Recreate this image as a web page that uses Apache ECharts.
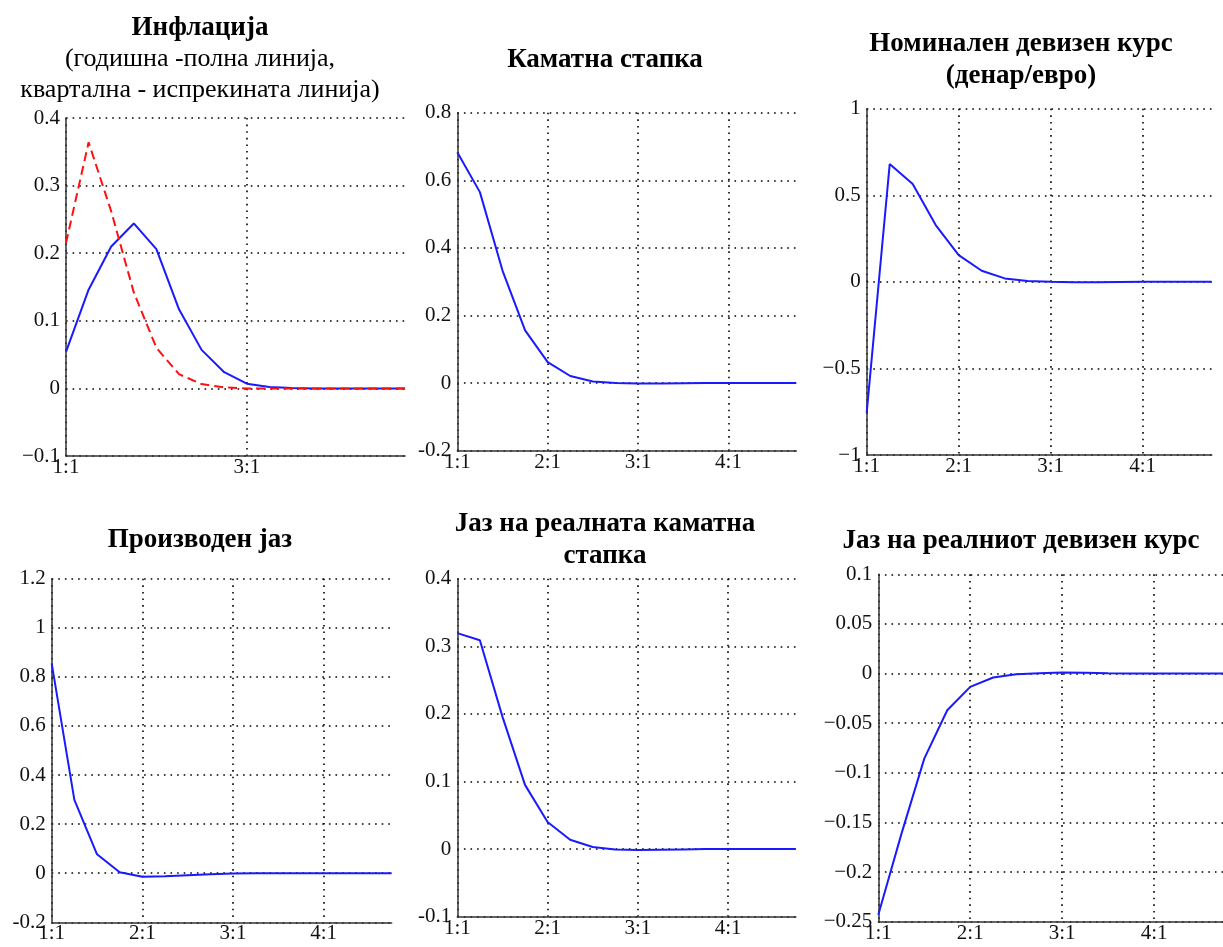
<!DOCTYPE html>
<html>
<head>
<meta charset="utf-8">
<title>Импулсни одзиви</title>
<script src="https://cdn.jsdelivr.net/npm/echarts@6/dist/echarts.min.js"></script>
<style>
    html, body { margin: 0; padding: 0; background: #fff; }
    #chart { width: 1223px; height: 947px; }
</style>
</head>
<body>
<div id="chart"></div>
<script>
// квартали: година:квартал
var quarters = ['1:1', '1:2', '1:3', '1:4', '2:1', '2:2', '2:3', '2:4',
                '3:1', '3:2', '3:3', '3:4', '4:1', '4:2', '4:3', '4:4'];

var inflationYoY = [0.054, 0.146, 0.210, 0.244, 0.206, 0.117, 0.057, 0.024,
                    0.007, 0.002, 0.0005, 0, 0, 0, 0, 0];
var inflationQoQ = [0.215, 0.364, 0.262, 0.142, 0.060, 0.021, 0.0064, 0.0015,
                    0, 0, 0, 0, 0, 0, 0, 0];
var interestRate = [0.683, 0.565, 0.333, 0.156, 0.062, 0.021, 0.005, 0,
                    -0.001, -0.001, -0.0005, 0, 0, 0, 0, 0];
var nominalExRate = [-0.755, 0.68, 0.565, 0.328, 0.154, 0.064, 0.02, 0.005,
                     0, -0.002, -0.002, -0.001, 0, 0, 0, 0];
var outputGap = [0.855, 0.299, 0.077, 0.004, -0.014, -0.012, -0.008, -0.004,
                 -0.001, 0, 0, 0, 0, 0, 0, 0];
var realRateGap = [0.3195, 0.309, 0.196, 0.095, 0.040, 0.0138, 0.003, -0.0005,
                   -0.0015, -0.001, -0.0005, 0, 0, 0, 0, 0];
var realExRateGap = [-0.243, -0.162, -0.0857, -0.037, -0.0134, -0.004, -0.0007, 0.0003,
                     0.001, 0.0007, 0.0003, 0, 0, 0, 0, 0];

var FONT = '"Liberation Serif", "Times New Roman", serif';

// секој панел: наслов, оски и серии
var panels = [
    {title: 'Инфлација', sub: '(годишна -полна линија,\nквартална - испрекината линија)',
     cx: 200, ty: 12, grid: [66, 118, 339, 338], y: [-0.1, 0.4, 0.1], xStep: 7, minus: '−',
     lines: [{data: inflationYoY}, {data: inflationQoQ, dashed: true}]},
    {title: 'Каматна стапка',
     cx: 605, ty: 44, grid: [457.3, 112.7, 339, 338], y: [-0.2, 0.8, 0.2], xStep: 3, minus: '-',
     lines: [{data: interestRate}]},
    {title: 'Номинален девизен курс\n(денар/евро)',
     cx: 1021, ty: 28, grid: [866.7, 108.7, 345, 346.3], y: [-1, 1, 0.5], xStep: 3, minus: '−',
     lines: [{data: nominalExRate}]},
    {title: 'Производен јаз',
     cx: 200, ty: 524, grid: [51.7, 578.7, 340, 343.6], y: [-0.2, 1.2, 0.2], xStep: 3, minus: '-',
     lines: [{data: outputGap}]},
    {title: 'Јаз на реалната каматна\nстапка',
     cx: 605, ty: 508, grid: [457.3, 578.7, 338.5, 338], y: [-0.1, 0.4, 0.1], xStep: 3, minus: '-',
     lines: [{data: realRateGap}]},
    {title: 'Јаз на реалниот девизен курс',
     cx: 1021, ty: 525, grid: [878.3, 574.3, 349, 347.4], y: [-0.25, 0.1, 0.05], xStep: 3, minus: '−',
     lines: [{data: realExRateGap}]}
];

var dotted = {color: '#000', width: 1.6, type: [1.6, 5]};

var option = {
    backgroundColor: '#fff',
    animation: false,
    title: [], grid: [], xAxis: [], yAxis: [], series: []
};

panels.forEach(function (p, i) {
    option.title.push({
        text: p.title,
        subtext: p.sub || '',
        left: p.cx,
        top: p.ty,
        textAlign: 'center',
        padding: 0,
        itemGap: 0,
        textStyle: {fontFamily: FONT, fontSize: 27, fontWeight: 'bold', color: '#000', lineHeight: 32},
        subtextStyle: {fontFamily: FONT, fontSize: 26, color: '#000', lineHeight: 31}
    });
    option.grid.push({left: p.grid[0], top: p.grid[1], width: p.grid[2], height: p.grid[3]});
    option.xAxis.push({
        type: 'category',
        gridIndex: i,
        data: quarters,
        boundaryGap: false,
        axisLine: {onZero: false, lineStyle: {color: '#333', width: 1.5}},
        axisTick: {show: false},
        axisLabel: {interval: p.xStep, margin: 1, fontFamily: FONT, fontSize: 21, color: '#111'},
        splitLine: {show: true, interval: p.xStep, lineStyle: dotted}
    });
    var minus = p.minus;
    option.yAxis.push({
        type: 'value',
        gridIndex: i,
        min: p.y[0],
        max: p.y[1],
        interval: p.y[2],
        axisLine: {show: true, onZero: false, lineStyle: {color: '#333', width: 1.5}},
        axisTick: {show: false},
        axisLabel: {
            margin: 6, fontFamily: FONT, fontSize: 21, color: '#111',
            formatter: function (v) {
                return String(Math.round(v * 1000) / 1000).replace('-', minus);
            }
        },
        splitLine: {show: true, lineStyle: dotted}
    });
    p.lines.forEach(function (l) {
        option.series.push({
            type: 'line',
            xAxisIndex: i,
            yAxisIndex: i,
            data: l.data,
            showSymbol: false,
            silent: true,
            lineStyle: l.dashed
                ? {color: '#ff1010', width: 2, type: [9, 5]}
                : {color: '#1a1aff', width: 2}
        });
    });
});

var chart = echarts.init(document.getElementById('chart'));
chart.setOption(option);
</script>
</body>
</html>
